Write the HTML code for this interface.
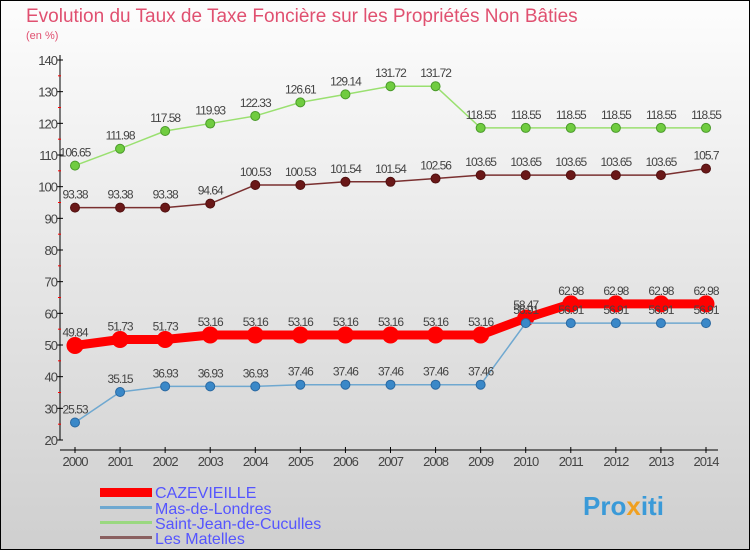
<!DOCTYPE html>
<html><head><meta charset="utf-8"><style>
body{margin:0;width:750px;height:550px;overflow:hidden;font-family:"Liberation Sans",sans-serif}
svg text{font-family:"Liberation Sans",sans-serif}
</style></head><body>
<svg id="c" width="750" height="550" xmlns="http://www.w3.org/2000/svg">
<defs><linearGradient id="bg" x1="0" y1="0" x2="0" y2="1"><stop offset="0" stop-color="#fdfdfd"/><stop offset="1" stop-color="#cfcfcf"/></linearGradient></defs>
<rect x="0.5" y="0.5" width="749" height="549" fill="url(#bg)" stroke="#000"/>
<text x="26" y="22" font-size="19" fill="#e05070">Evolution du Taux de Taxe Foncière sur les Propriétés Non Bâties</text>
<text x="26" y="39" font-size="11" fill="#e05070">(en %)</text>
<g id="axes"></g><g id="series"></g>
<g>
<rect x="100" y="488" width="52" height="9" fill="#f00"/>
<text x="155" y="498" font-size="16" fill="#5555ff">CAZEVIEILLE</text>
<rect x="100" y="506" width="52" height="3" fill="#6fa8d0"/>
<text x="155" y="514" font-size="16" fill="#5555ff">Mas-de-Londres</text>
<rect x="100" y="521" width="52" height="3" fill="#9ad880"/>
<text x="155" y="529" font-size="16" fill="#5555ff">Saint-Jean-de-Cuculles</text>
<rect x="100" y="536" width="52" height="3" fill="#8a6060"/>
<text x="155" y="544" font-size="16" fill="#5555ff">Les Matelles</text>
</g>
<text x="583" y="515" font-size="26" font-weight="bold" fill="#3a9ad8">Pro<tspan fill="#f0a020">x</tspan>iti</text>
</svg>
<script>
const years=[2000,2001,2002,2003,2004,2005,2006,2007,2008,2009,2010,2011,2012,2013,2014];
const yTicks=[20,30,40,50,60,70,80,90,100,110,120,130,140];
const cazevieille=[49.84,51.73,51.73,53.16,53.16,53.16,53.16,53.16,53.16,53.16,58.47,62.98,62.98,62.98,62.98];
const masDeLondres=[25.53,35.15,36.93,36.93,36.93,37.46,37.46,37.46,37.46,37.46,56.91,56.91,56.91,56.91,56.91];
const saintJean=[106.65,111.98,117.58,119.93,122.33,126.61,129.14,131.72,131.72,118.55,118.55,118.55,118.55,118.55,118.55];
const lesMatelles=[93.38,93.38,93.38,94.64,100.53,100.53,101.54,101.54,102.56,103.65,103.65,103.65,103.65,103.65,105.7];
const NS="http://www.w3.org/2000/svg";
const x=i=>75+i*(631/14);
const y=v=>440-(v-20)*(380/120);
function mk(t,a,p){const e=document.createElementNS(NS,t);for(const k in a)e.setAttribute(k,a[k]);p.appendChild(e);return e;}
const ax=document.getElementById('axes'),sr=document.getElementById('series');
const yl=mk('line',{x1:60,y1:55,x2:60,y2:440,stroke:'#000'},ax);


const xl=mk('line',{x1:60,y1:450,x2:718,y2:450,stroke:'#000'},ax);


yTicks.forEach(v=>{
 mk('line',{x1:57,y1:y(v),x2:63,y2:y(v),stroke:'#000'},ax);
 if(v<140)mk('line',{x1:58,y1:y(v+5),x2:61,y2:y(v+5),stroke:'#f00'},ax);
 const t=mk('text',{x:57,y:y(v)+5,'font-size':13,fill:'#444','text-anchor':'end','letter-spacing':'-1'},ax);
 t.textContent=v;
 
 
});
years.forEach((yr,i)=>{
 mk('line',{x1:x(i),y1:447,x2:x(i),y2:453,stroke:'#000'},ax);
 const t=mk('text',{x:x(i),y:466,'font-size':13,fill:'#444','text-anchor':'middle','letter-spacing':'-1'},ax);
 t.textContent=yr;
 
 
});
function series(d,name,col,lw,r,dot,stroke){
 const g=mk('g',{},sr);
 
 
 const pl=mk('polyline',{points:d.map((v,i)=>x(i)+','+y(v)).join(' '),fill:'none',stroke:col,'stroke-width':lw,'stroke-linejoin':'round'},g);
 
 
 d.forEach((v,i)=>{
  const c=mk('circle',{cx:x(i),cy:y(v),r:r,fill:dot,stroke:stroke,'stroke-width':1},g);
  
  
  const t=mk('text',{x:x(i),y:y(v)-9,'font-size':12,fill:'#444','text-anchor':'middle','letter-spacing':'-1'},g);
  t.textContent=v;
  
  
 });
}
series(cazevieille,'cazevieille','#f00',9,8,'#f00','#f00');
series(saintJean,'saint-jean-de-cuculles','#9ae070',1.5,4.5,'#70cc40','#4a9a2a');
series(lesMatelles,'les-matelles','#7a3030',1.5,4.5,'#6a1818','#501010');
series(masDeLondres,'mas-de-londres','#6fa8d0',1.5,4.5,'#3a88c8','#2a68a0');
</script>
</body></html>
